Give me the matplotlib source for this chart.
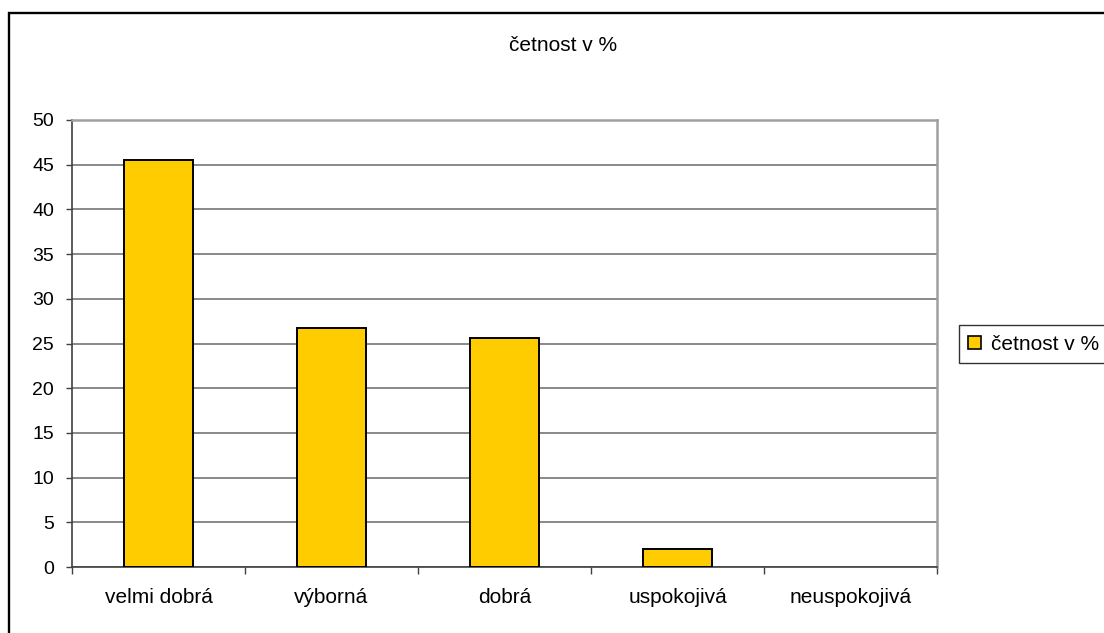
import numpy as np
import matplotlib
matplotlib.use("Agg")
import matplotlib.pyplot as plt
from matplotlib.patches import Rectangle, Patch

plt.rcParams['font.family'] = ['Liberation Sans', 'DejaVu Sans']

categories = ['velmi dobrá', 'výborná', 'dobrá', 'uspokojivá', 'neuspokojivá']
values = [45.5, 26.7, 25.6, 2.0, 0.0]
series_name = 'četnost v %'
yticks = [0, 5, 10, 15, 20, 25, 30, 35, 40, 45, 50]

W, H = 1104, 633
fig = plt.figure(figsize=(W / 100, H / 100), dpi=100)
fig.patch.set_facecolor('white')

# plot area in pixels: x 72..937, y 120..567 (from top)
ax = fig.add_axes([72 / W, (H - 567) / H, (937 - 72) / W, (567 - 120) / H])

x = np.arange(len(categories))
# empty categories get no outline, like the spreadsheet draws them
edges = ['black' if v > 0 else 'none' for v in values]
ax.bar(x, values, width=0.4, color='#FFCC00', edgecolor=edges, linewidth=1.4, zorder=3)

ax.set_xlim(-0.5, len(categories) - 0.5)
ax.set_ylim(0, 50)
ax.set_yticks(yticks)
ax.set_yticklabels([str(v) for v in yticks], fontsize=14)

# category boundaries get the ticks, names sit in between
ax.set_xticks(np.arange(len(categories) + 1) - 0.5)
ax.set_xticklabels([])
ax.set_xticks(x, minor=True)
ax.set_xticklabels(categories, minor=True, fontsize=15)
ax.tick_params(axis='x', which='major', direction='out', length=5, width=1, color='#404040')
ax.tick_params(axis='x', which='minor', length=0, pad=15)
ax.tick_params(axis='y', direction='out', length=4, width=1, color='#404040', pad=9)

ax.yaxis.grid(True, color='#808080', linewidth=1.3, zorder=0)
ax.set_axisbelow(True)
for s in ['left', 'bottom']:
    ax.spines[s].set_color('#404040')
    ax.spines[s].set_linewidth(1.2)
for s in ['top', 'right']:
    ax.spines[s].set_color('#A0A0A0')
    ax.spines[s].set_linewidth(1.8)

fig.text(563 / W, (H - 51) / H, series_name, ha='center', va='baseline', fontsize=15)

handle = Patch(facecolor='#FFCC00', edgecolor='black', linewidth=1.2)
leg = fig.legend([handle], [series_name], loc='center left',
                 bbox_to_anchor=(959 / W, (H - 344) / H), fontsize=15,
                 frameon=True, fancybox=False, handlelength=0.6, handleheight=0.6,
                 handletextpad=0.5, borderpad=0.45, borderaxespad=0)
leg.get_frame().set_edgecolor('black')
leg.get_frame().set_linewidth(1.0)

# chart area border, right and bottom edges fall outside the picture
fig.patches.append(Rectangle((9 / W, -0.1), 1.2, (H - 13) / H + 0.1,
                             transform=fig.transFigure, fill=False,
                             edgecolor='black', linewidth=1.7, zorder=10))

fig.savefig('out.png', dpi=100)
